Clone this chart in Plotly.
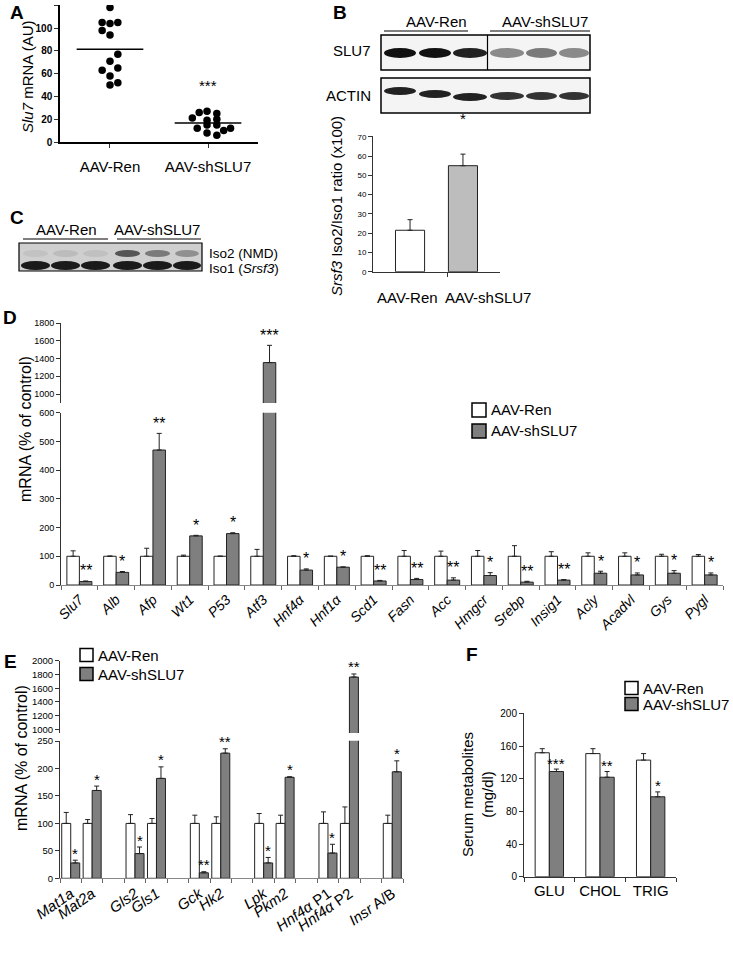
import numpy as np
import plotly.graph_objects as go

W, H = 733, 957
FONT = "Liberation Sans, Arial, sans-serif"
GRAY = "#7f7f7f"
EDGE = "#222222"

# ---- panel A: Slu7 mRNA per animal
groups = ["AAV-Ren", "AAV-shSLU7"]
slu7_ren = [118, 105, 104, 105, 98, 94, 77, 71, 63, 65, 58, 52, 50]
slu7_sh = [27, 26, 25, 21, 20, 19, 15, 15, 12, 12, 10, 8, 6]
# horizontal spread of the dots (swarm layout)
ren_jitter = [0, -0.08, 0, 0.08, -0.08, 0, 0.08, 0, -0.08, 0.08, 0, 0.08, 0]
sh_jitter = [-0.01, -0.09, 0.09, -0.16, 0.09, -0.01, -0.01, 0.09, -0.11, 0.23, 0.16, -0.01, 0.09]

# ---- panel B: Srsf3 iso2/iso1 ratio
iso_ratio = [21.5, 55]
iso_err = [5.5, 6]

# ---- panel D
genes_d = ["Slu7", "Alb", "Afp", "Wt1", "P53", "Atf3", "Hnf4α", "Hnf1α", "Scd1",
           "Fasn", "Acc", "Hmgcr", "Srebp", "Insig1", "Acly", "Acadvl", "Gys", "Pygl"]
ren_d = [100, 100, 100, 100, 100, 100, 100, 100, 100, 100, 100, 100, 100, 100, 100, 100, 100, 100]
ren_d_err = [19, 1, 28, 4, 0.5, 24, 2, 0.5, 2, 20, 18, 20, 37, 16, 12, 12, 7, 6]
sh_d = [12, 44, 470, 171, 179, 1355, 52, 62, 14, 19, 17, 33, 10, 17, 41, 35, 41, 35]
sh_d_err = [2, 3, 58, 2, 3, 195, 4, 1, 2, 4, 8, 10, 3, 2, 7, 7, 9, 7]
sig_d = ["**", "*", "**", "*", "*", "***", "*", "*", "**", "**", "**", "*", "**", "**", "*", "*", "*", "*"]

# ---- panel E
genes_e = ["<i>Mat1a</i>", "<i>Mat2a</i>", "<i>Gls2</i>", "<i>Gls1</i>", "<i>Gck</i>", "<i>Hk2</i>",
           "<i>Lpk</i>", "<i>Pkm2</i>", "<i>Hnf4α</i> P1", "<i>Hnf4α</i> P2", "<i>Insr</i> A/B"]
ren_e = [100, 100, 100, 100, 100, 100, 100, 100, 100, 100, 100]
ren_e_err = [20, 7, 16, 9, 15, 12, 18, 15, 21, 30, 15]
sh_e = [28, 160, 45, 182, 10, 228, 28, 184, 46, 1764, 194]
sh_e_err = [5, 8, 12, 21, 2, 8, 10, 1, 16, 45, 20]
sig_e = ["*", "*", "*", "*", "**", "**", "*", "*", "*", "**", "*"]

# ---- panel F
metab = ["GLU", "CHOL", "TRIG"]
ren_f = [152, 151, 143]
ren_f_err = [5, 6, 8]
sh_f = [129, 122, 98]
sh_f_err = [3, 7, 6]
sig_f = ["***", "**", "*"]


def px(x):
    return x / W


def py(y):
    return 1 - y / H


def err(vals):
    return dict(type="data", symmetric=False, array=vals, arrayminus=[0] * len(vals),
                color=EDGE, thickness=1, width=2.5)


fig = go.Figure()

# A
fig.add_trace(go.Scatter(x=[1 + j for j in ren_jitter], y=slu7_ren, mode="markers",
                         marker=dict(color="black", size=7.5), xaxis="x", yaxis="y"))
fig.add_trace(go.Scatter(x=[2 + j for j in sh_jitter], y=slu7_sh, mode="markers",
                         marker=dict(color="black", size=7.5), xaxis="x", yaxis="y"))
for i, vals in enumerate([slu7_ren, slu7_sh]):
    m = float(np.mean(vals))
    fig.add_trace(go.Scatter(x=[i + 1 - 0.34, i + 1 + 0.34], y=[m, m], mode="lines",
                             line=dict(color="black", width=1.5), xaxis="x", yaxis="y"))

# B
fig.add_trace(go.Bar(x=[0, 1], y=iso_ratio, width=0.55, marker=dict(color=["white", "#bdbdbd"],
                     line=dict(color=EDGE, width=1)), error_y=err(iso_err), xaxis="x3", yaxis="y3"))

# D
xd = np.arange(len(genes_d))
fig.add_trace(go.Bar(x=xd, y=ren_d, offset=-0.34, width=0.34, marker=dict(color="white", line=dict(color=EDGE, width=1)),
                     error_y=err(ren_d_err), xaxis="x4", yaxis="y4"))
for xa, ya in [("x4", "y4"), ("x5", "y5")]:
    fig.add_trace(go.Bar(x=xd, y=sh_d, offset=0, width=0.34, marker=dict(color=GRAY, line=dict(color=EDGE, width=1)),
                         error_y=err(sh_d_err), xaxis=xa, yaxis=ya))

# E  (pairs of genes separated by an empty slot)
xe = np.array([i + i // 2 for i in range(len(genes_e))])
fig.add_trace(go.Bar(x=xe, y=ren_e, offset=-0.42, width=0.42, marker=dict(color="white", line=dict(color=EDGE, width=1)),
                     error_y=err(ren_e_err), xaxis="x6", yaxis="y6"))
for xa, ya in [("x6", "y6"), ("x7", "y7")]:
    fig.add_trace(go.Bar(x=xe, y=sh_e, offset=0, width=0.42, marker=dict(color=GRAY, line=dict(color=EDGE, width=1)),
                         error_y=err(sh_e_err), xaxis=xa, yaxis=ya))

# F
xf = np.arange(len(metab))
fig.add_trace(go.Bar(x=xf, y=ren_f, offset=-0.28, width=0.28, marker=dict(color="white", line=dict(color=EDGE, width=1)),
                     error_y=err(ren_f_err), xaxis="x8", yaxis="y8"))
fig.add_trace(go.Bar(x=xf, y=sh_f, offset=0, width=0.28, marker=dict(color=GRAY, line=dict(color=EDGE, width=1)),
                     error_y=err(sh_f_err), xaxis="x8", yaxis="y8"))

ax_common = dict(showgrid=False, zeroline=False, showline=True, linecolor="#333", linewidth=1,
                 ticks="outside", ticklen=4, tickcolor="#333", tickfont=dict(color="black"))

fig.update_layout(
    width=W, height=H, margin=dict(l=0, r=0, t=0, b=0, autoexpand=False), showlegend=False,
    paper_bgcolor="white", plot_bgcolor="white", barmode="overlay",
    font=dict(family=FONT, color="black"),
    xaxis=dict(ax_common, domain=[px(60), px(258)], range=[0.49, 2.51], anchor="y",
               tickvals=[1, 2], ticktext=groups, tickfont=dict(size=15), linecolor="black", linewidth=1.5,
               ticklabelstandoff=6),
    yaxis=dict(ax_common, domain=[py(142), py(5)], range=[0, 120.3], tickvals=list(range(0, 121, 20)), anchor="x",
               tickfont=dict(size=10, weight="bold"), linecolor="black", linewidth=1.5),
    xaxis3=dict(ax_common, domain=[px(373), px(500)], range=[-0.7, 1.7], anchor="y3",
                tickvals=[0.7], ticktext=[""]),
    yaxis3=dict(ax_common, domain=[py(271.7), py(136.4)], range=[0, 70.2], tickvals=list(range(0, 71, 10)),
                anchor="x3", tickfont=dict(size=8)),
    xaxis4=dict(ax_common, domain=[px(61), px(723)], range=[-0.5, len(genes_d) - 0.5], anchor="y4",
                tickvals=list(xd), ticktext=["<i>%s</i>" % g for g in genes_d], ticks="",
                tickangle=-45, tickfont=dict(size=14), linecolor="#888",
                minor=dict(tickvals=list(np.arange(len(genes_d) + 1) - 0.5), ticks="outside", ticklen=4,
                           tickcolor="#666")),
    yaxis4=dict(ax_common, domain=[py(585), py(412.7)], range=[0, 600], dtick=100, anchor="x4",
                tickfont=dict(size=9)),
    xaxis5=dict(domain=[px(61), px(723)], matches="x4", anchor="y5", visible=False),
    yaxis5=dict(ax_common, domain=[py(403), py(323)], range=[899, 1802], tickvals=list(range(1000, 1801, 200)),
                anchor="x5", tickfont=dict(size=9)),
    xaxis6=dict(ax_common, domain=[px(60), px(403)], range=[-0.5, 15.5], anchor="y6",
                tickvals=list(xe), ticktext=genes_e, ticks="", tickangle=-35, tickfont=dict(size=15),
                linecolor="#888",
                minor=dict(tickvals=list(np.arange(17) - 0.5), ticks="outside", ticklen=4, tickcolor="#666")),
    yaxis6=dict(ax_common, domain=[py(878.3), py(740.8)], range=[0, 250.5], tickvals=list(range(0, 251, 50)),
                anchor="x6", tickfont=dict(size=9.5)),
    xaxis7=dict(domain=[px(60), px(403)], matches="x6", anchor="y7", visible=False),
    yaxis7=dict(ax_common, domain=[py(733), py(660.7)], range=[946, 2003], tickvals=list(range(1000, 2001, 200)),
                anchor="x7", tickfont=dict(size=9.5)),
    xaxis8=dict(ax_common, domain=[px(524), px(676)], range=[-0.5, 2.5], anchor="y8",
                tickvals=list(xf), ticktext=metab, ticks="", tickfont=dict(size=15),
                minor=dict(tickvals=[-0.5, 0.5, 1.5, 2.5], ticks="outside", ticklen=4, tickcolor="#333")),
    yaxis8=dict(ax_common, domain=[py(876.7), py(713.3)], range=[0, 200.4], tickvals=list(range(0, 201, 40)),
                anchor="x8", tickfont=dict(size=10)),
)

ann = []
shapes = []


def text(x, y, s, size=15, **kw):
    d = dict(x=px(x), y=py(y), xref="paper", yref="paper", text=s, showarrow=False,
             xanchor="center", yanchor="middle", font=dict(size=size, family=FONT, color="black"))
    d.update(kw)
    ann.append(d)


def rect(x0, y0, x1, y1, fill="rgba(0,0,0,0)", line="black", lw=1.5):
    shapes.append(dict(type="rect", xref="paper", yref="paper", x0=px(x0), x1=px(x1), y0=py(y1), y1=py(y0),
                       fillcolor=fill, line=dict(color=line, width=lw)))


def band(x0, y0, x1, y1, color):
    shapes.append(dict(type="circle", xref="paper", yref="paper", x0=px(x0), x1=px(x1), y0=py(y1), y1=py(y0),
                       fillcolor=color, line=dict(width=0)))


def hline(x0, x1, y, lw=1.5, color="black"):
    shapes.append(dict(type="line", xref="paper", yref="paper", x0=px(x0), x1=px(x1), y0=py(y), y1=py(y),
                       line=dict(color=color, width=lw)))


def stars(xs, tops, sig, xref, yrefs, limit, shift, size):
    for x, t, s in zip(xs, tops, sig):
        yr = yrefs[0] if t <= limit else yrefs[1]
        ann.append(dict(x=x, y=t, xref=xref, yref=yr, text=s, showarrow=False, xanchor="center",
                        yanchor="middle", yshift=shift, font=dict(size=size, family=FONT, color="black")))


# panel letters
text(17, 0, "<b>A</b>", size=19, yanchor="top")
text(340, 0, "<b>B</b>", size=19, yanchor="top")
for L, (x, y) in zip("CDEF", [(17, 217), (10, 317), (10, 661), (472, 654)]):
    text(x, y, "<b>%s</b>" % L, size=19)

# A labels
text(27, 76, "<i>Slu7</i> mRNA (AU)", size=15, textangle=-90)
ann.append(dict(x=2, y=max(slu7_sh), xref="x", yref="y", text="***", showarrow=False, yshift=26,
                xanchor="center", yanchor="middle", font=dict(size=15, family=FONT, color="black")))

# B blot
text(436, 22, "AAV-Ren", size=15)
text(545, 22, "AAV-shSLU7", size=15)
hline(384, 468, 31, lw=1.2)
hline(490, 590, 31, lw=1.2)
text(373, 51, "SLU7", size=15, xanchor="right")
text(373, 96, "ACTIN", size=15, xanchor="right")
rect(381, 35, 590, 70, fill="#f4f4f4")
rect(381, 78, 590, 113, fill="#f4f4f4")
for x0, x1, c in [(384, 416, "#111"), (419, 451, "#111"), (453, 487, "#222"),
                  (490, 524, "#8a8a8a"), (526, 557, "#7a7a7a"), (559, 589, "#8a8a8a")]:
    band(x0, 48, x1, 58, c)
for (x0, x1, yc, c) in [(384, 416, 91, "#222"), (419, 451, 94, "#222"), (453, 487, 97, "#222"),
                        (490, 524, 96, "#333"), (526, 557, 96, "#333"), (559, 589, 96, "#333")]:
    band(x0, yc - 4, x1, yc + 4, c)
shapes.append(dict(type="line", xref="paper", yref="paper", x0=px(487.5), x1=px(487.5), y0=py(35), y1=py(70),
                   line=dict(color="black", width=1.2)))

# B chart labels
text(337, 206, "<i>Srsf3</i> Iso2/Iso1 ratio (x100)", size=15, textangle=-90)
text(407, 298, "AAV-Ren", size=15)
text(488, 298, "AAV-shSLU7", size=15)
ann.append(dict(x=1, y=iso_ratio[1] + iso_err[1], xref="x3", yref="y3", text="*", showarrow=False,
                xanchor="center", yanchor="middle", yshift=36, font=dict(size=15, family=FONT, color="black")))

# C blot
text(66, 229, "AAV-Ren", size=15)
text(157, 229, "AAV-shSLU7", size=15)
hline(23, 108, 239, lw=1.2)
hline(117, 201, 239, lw=1.2)
rect(19, 243, 202, 271, fill="#cfcfcf", lw=1.2)
lanes = [(21, 50), (51, 80), (81, 110), (113, 142), (143, 172), (173, 201)]
for (x0, x1) in lanes:
    band(x0, 261, x1, 270, "#1a1a1a")
for (x0, x1), c in zip(lanes, ["#c2c2c2", "#bcbcbc", "#c0c0c0", "#555", "#7a7a7a", "#909090"]):
    band(x0 + 2, 250, x1 - 2, 257, c)
text(208, 253.5, "Iso2 (NMD)", size=13.5, xanchor="left", borderpad=0)
text(208, 269, "Iso1 (<i>Srsf3</i>)", size=13.5, xanchor="left", borderpad=0)

# D labels
text(25, 429, "mRNA (% of control)", size=16, textangle=-90)
stars([x + 0.17 for x in xd], [a + b for a, b in zip(sh_d, sh_d_err)], sig_d, "x4", ["y4", "y5"], 600, 10, 16)


def legend(x, y1, y2, box=14):
    rect(x, y1 - box / 2, x + box, y1 + box / 2, fill="white", lw=1.5)
    rect(x, y2 - box / 2, x + box, y2 + box / 2, fill=GRAY, lw=1.5)
    text(x + box + 3, y1, "AAV-Ren", size=15, xanchor="left")
    text(x + box + 3, y2, "AAV-shSLU7", size=15, xanchor="left")


legend(472, 410, 431)

# E labels
text(21, 758, "mRNA (% of control)", size=16, textangle=-90)
stars([x + 0.21 for x in xe], [a + b for a, b in zip(sh_e, sh_e_err)], sig_e, "x6", ["y6", "y7"], 250, 7, 15)
legend(80, 655, 674, box=13)

# F labels
text(477, 795, "Serum metabolites<br>(mg/dl)", size=15, textangle=-90)
stars([x + 0.14 for x in xf], [a + b for a, b in zip(sh_f, sh_f_err)], sig_f, "x8", ["y8", "y8"], 200, 6, 15)
legend(625, 688, 704, box=13)

fig.update_layout(annotations=ann, shapes=shapes)
# drop the default page margin so the figure sits at the window's corner
fig.write_html("out.html", config={"displayModeBar": False},
               post_script="document.body.style.margin='0';")
